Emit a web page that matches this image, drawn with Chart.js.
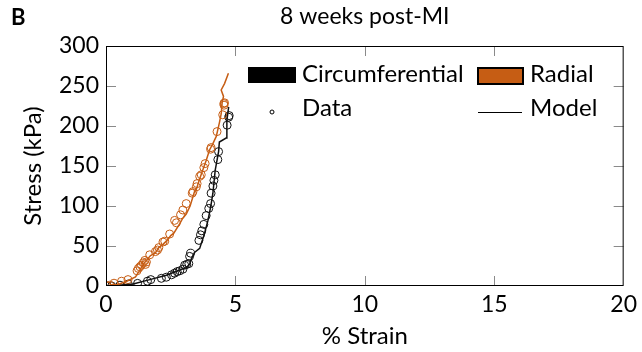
<!DOCTYPE html>
<html>
<head>
<meta charset="utf-8">
<script src="https://cdn.jsdelivr.net/npm/chart.js@4.4.1/dist/chart.umd.min.js"></script>
<style>
  html, body { margin: 0; padding: 0; background: #fff; }
  canvas { display: block; }
</style>
</head>
<body>
<canvas id="stressChart" width="642" height="352"></canvas>
<script>
// ---- data (% strain, kPa) ----
const circDataStrain = [0.05, 0.22, 0.54, 0.86, 1.22, 1.6, 1.73, 2.14, 2.33, 2.53, 2.65, 2.75, 2.85, 2.97, 3.04, 3.12, 3.2, 3.23, 3.27, 3.59, 3.65, 3.7, 3.78, 3.87, 3.97, 4.04, 4.06, 4.13, 4.17, 4.22, 4.32, 4.35, 4.68, 4.74, 4.76];
const circDataStress = [0, 0, 1, 2.5, 3.3, 6, 8, 9.6, 11, 14, 16, 18, 19, 21, 26, 27, 28, 37, 41, 57, 64, 69, 77, 88, 97, 103, 116, 125, 132, 139, 158, 168, 201, 211, 213];

const circModelStrain = [0, 0.4, 1.05, 1.69, 2.33, 2.85, 3.1, 3.23, 3.3, 3.42, 3.62, 3.8, 3.94, 4.05, 4.13, 4.22, 4.35, 4.38, 4.64, 4.67, 4.74];
const circModelStress = [0, 0.5, 2.5, 8, 13.5, 20, 23, 27, 34, 42, 47, 65, 82, 100, 116, 145, 168, 180, 185, 207, 224];

const radDataStrain = [0.03, 0.15, 0.31, 0.6, 0.85, 1.2, 1.25, 1.31, 1.37, 1.44, 1.5, 1.56, 1.53, 1.69, 1.91, 1.99, 2.04, 2.2, 2.27, 2.46, 2.65, 2.72, 2.88, 2.97, 3.1, 3.33, 3.36, 3.49, 3.52, 3.62, 3.68, 3.78, 3.83, 4.04, 4.06, 4.29, 4.51, 4.55, 4.58, 4.56];
const radDataStress = [0, 1, 3.5, 6, 8, 19, 22, 24, 26, 29, 32, 30, 27, 39, 43, 45, 48, 55, 56, 65, 82, 79, 89, 95, 103, 116, 118, 124, 128, 137, 139, 148, 153, 171, 173, 193, 214, 228, 229, 226];

const radModelStrain = [0, 0.28, 0.44, 0.8, 1.14, 1.27, 1.46, 1.72, 1.9, 2.04, 2.2, 2.36, 2.5, 2.62, 2.85, 2.95, 3.1, 3.25, 3.42, 3.5, 3.62, 3.74, 3.87, 4.0, 4.13, 4.26, 4.38, 4.45, 4.49, 4.54, 4.45, 4.58, 4.73];
const radModelStress = [0, 2, 1.5, 6, 11.5, 18, 28, 38, 41, 48, 52, 57, 63, 66, 78, 84, 90, 100, 118, 122, 134, 145, 157, 170, 178, 187, 204, 215, 230, 237, 245, 253, 266];

const xTicks = [0, 5, 10, 15, 20];
const yTicks = [0, 50, 100, 150, 200, 250, 300];

const ORANGE = "#c65d14";
const FONT = "Lato, 'DejaVu Sans', sans-serif";

const pts = (xs, ys) => xs.map((x, i) => ({ x, y: ys[i] }));

// frame, inward ticks, title, panel letter and legend
const decor = {
  id: "decor",
  afterDraw(chart) {
    const { ctx, chartArea: a, scales: { x, y } } = chart;
    ctx.save();
    ctx.strokeStyle = "#8a8a8a";
    ctx.lineWidth = 1;
    const tl = 10;
    xTicks.slice(1, -1).forEach(v => {
      const px = Math.round(x.getPixelForValue(v)) + 0.5;
      ctx.beginPath();
      ctx.moveTo(px, a.top); ctx.lineTo(px, a.top + tl);
      ctx.moveTo(px, a.bottom); ctx.lineTo(px, a.bottom - tl);
      ctx.stroke();
    });
    yTicks.slice(1, -1).forEach(v => {
      const py = Math.round(y.getPixelForValue(v)) + 0.5;
      ctx.beginPath();
      ctx.moveTo(a.left, py); ctx.lineTo(a.left + tl, py);
      ctx.moveTo(a.right, py); ctx.lineTo(a.right - tl, py);
      ctx.stroke();
    });
    ctx.strokeStyle = "#000";
    ctx.strokeRect(a.left + 0.5, a.top + 0.5, a.width - 1, a.height - 1);

    // title + panel letter
    ctx.fillStyle = "#000";
    ctx.textBaseline = "middle";
    ctx.textAlign = "center";
    ctx.font = "23px " + FONT;
    ctx.fillText("8 weeks post-MI", (a.left + a.right) / 2, 17);
    ctx.textAlign = "left";
    ctx.font = "bold 22px " + FONT;
    ctx.fillText("B", 11, 18);

    // legend
    ctx.font = "24px " + FONT;
    ctx.fillStyle = "#000";
    ctx.fillRect(248, 67, 48, 16);
    ctx.fillText("Circumferential", 302, 74);
    ctx.fillStyle = ORANGE;
    ctx.fillRect(478, 68, 45, 16);
    ctx.strokeStyle = "#000";
    ctx.lineWidth = 2;
    ctx.strokeRect(478, 68, 45, 16);
    ctx.fillStyle = "#000";
    ctx.fillText("Radial", 530, 74);
    ctx.lineWidth = 1;
    ctx.beginPath();
    ctx.arc(272, 112, 2, 0, Math.PI * 2);
    ctx.stroke();
    ctx.fillText("Data", 302, 108);
    ctx.beginPath();
    ctx.moveTo(478, 112.5); ctx.lineTo(522, 112.5);
    ctx.stroke();
    ctx.fillText("Model", 530, 108);
    ctx.restore();
  }
};

const ctx = document.getElementById("stressChart").getContext("2d");

new Chart(ctx, {
  type: "scatter",
  data: {
    datasets: [
      {
        label: "Radial model",
        data: pts(radModelStrain, radModelStress),
        showLine: true,
        borderColor: ORANGE,
        borderWidth: 1.5,
        pointRadius: 0,
        tension: 0
      },
      {
        label: "Circumferential model",
        data: pts(circModelStrain, circModelStress),
        showLine: true,
        borderColor: "#111",
        borderWidth: 1.5,
        pointRadius: 0,
        tension: 0
      },
      {
        label: "Radial data",
        data: pts(radDataStrain, radDataStress),
        pointStyle: "circle",
        pointRadius: 4,
        borderWidth: 1,
        borderColor: ORANGE,
        backgroundColor: "rgba(0,0,0,0)"
      },
      {
        label: "Circumferential data",
        data: pts(circDataStrain, circDataStress),
        pointStyle: "circle",
        pointRadius: 4,
        borderWidth: 1,
        borderColor: "#111",
        backgroundColor: "rgba(0,0,0,0)"
      }
    ]
  },
  options: {
    responsive: false,
    animation: false,
    devicePixelRatio: 1,
    layout: { padding: { top: 46, right: 16, left: 0, bottom: 0 } },
    plugins: {
      legend: { display: false },
      tooltip: { enabled: false }
    },
    scales: {
      x: {
        type: "linear",
        min: 0, max: 20,
        afterBuildTicks: s => { s.ticks = xTicks.map(v => ({ value: v })); },
        afterFit: s => { s.height = 66; },
        grid: { display: false, drawTicks: false },
        border: { display: false },
        ticks: { color: "#000", font: { family: FONT, size: 23 }, padding: 5, maxRotation: 0 },
        title: { display: true, text: "% Strain", color: "#000", font: { family: FONT, size: 24 }, padding: { top: 0, bottom: 1 } }
      },
      y: {
        type: "linear",
        min: 0, max: 300,
        afterBuildTicks: s => { s.ticks = yTicks.map(v => ({ value: v })); },
        afterFit: s => { s.width = 106; },
        grid: { display: false, drawTicks: false },
        border: { display: false },
        ticks: { color: "#000", font: { family: FONT, size: 23 }, padding: 7 },
        title: { display: true, text: "Stress (kPa)", color: "#000", font: { family: FONT, size: 24 }, padding: { top: 19, bottom: 0 } }
      }
    }
  },
  plugins: [decor]
});
</script>
</body>
</html>
